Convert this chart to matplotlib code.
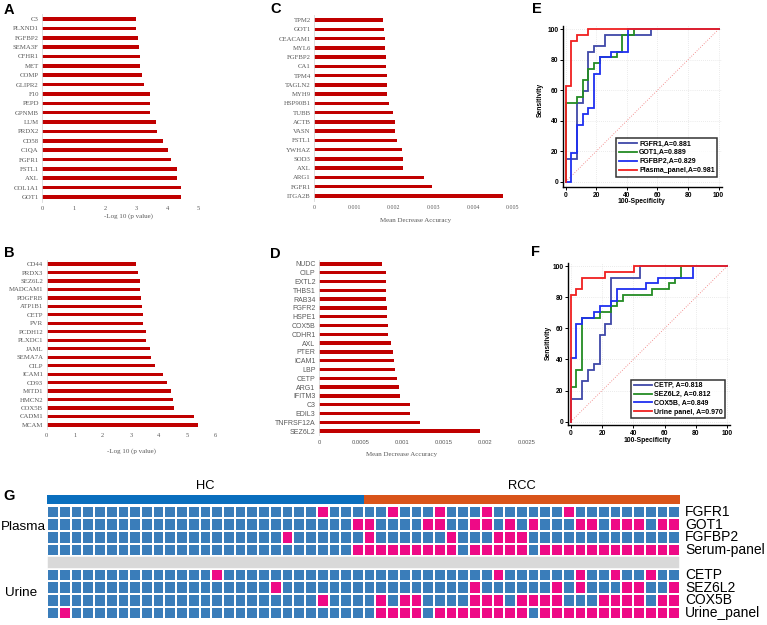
import numpy as np
import matplotlib
matplotlib.use("Agg")
import matplotlib.pyplot as plt
from matplotlib.colors import ListedColormap
from matplotlib.patches import Rectangle

W, H = 767, 625
SERIF = "Liberation Serif"
SANS = "Liberation Sans"
GRAY_TXT = "#595959"
BAR_RED = "#C00000"

# ---- panel A: t-test, plasma
a_genes = ["C3", "PLXND1", "FGFBP2", "SEMA3F", "CFHR1", "MET", "COMP", "GLIPR2", "F10", "PEPD",
           "GPNMB", "LUM", "PRDX2", "CD58", "C1QA", "FGFR1", "FSTL1", "AXL", "COL1A1", "GOT1"]
a_vals = [2.98, 2.98, 3.05, 3.08, 3.12, 3.13, 3.19, 3.26, 3.44, 3.44,
          3.45, 3.62, 3.68, 3.87, 4.02, 4.10, 4.31, 4.31, 4.42, 4.42]
a_ticks = [0, 1, 2, 3, 4, 5]
a_ticklabels = ["0", "1", "2", "3", "4", "5"]

# ---- panel B: t-test, urine
b_genes = ["CD44", "PRDX3", "SEZ6L2", "MADCAM1", "PDGFRB", "ATP1B1", "CETP", "PVR", "PCDH12", "PLXDC1",
           "JAML", "SEMA7A", "CILP", "ICAM1", "CD93", "MITD1", "HMCN2", "COX5B", "CADM1", "MCAM"]
b_vals = [3.18, 3.24, 3.31, 3.31, 3.36, 3.41, 3.42, 3.42, 3.53, 3.54,
          3.67, 3.73, 3.86, 4.14, 4.28, 4.43, 4.50, 4.55, 5.26, 5.38]
b_ticks = [0, 1, 2, 3, 4, 5, 6]
b_ticklabels = ["0", "1", "2", "3", "4", "5", "6"]

# ---- panel C: random forest, plasma
c_genes = ["TPM2", "GOT1", "CEACAM1", "MYL6", "FGFBP2", "CA1", "TPM4", "TAGLN2", "MYH9", "HSP90B1",
           "TUBB", "ACTB", "VASN", "FSTL1", "YWHAZ", "SOD3", "AXL", "ARG1", "FGFR1", "ITGA2B"]
c_vals = [0.00174, 0.00176, 0.00177, 0.00179, 0.00180, 0.00181, 0.00182, 0.00183, 0.00184, 0.00189,
          0.00197, 0.00202, 0.00204, 0.00207, 0.00221, 0.00222, 0.00223, 0.00276, 0.00297, 0.00475]
c_ticks = [0, 0.001, 0.002, 0.003, 0.004, 0.005]
c_ticklabels = ["0", "0.001", "0.002", "0.003", "0.004", "0.005"]

# ---- panel D: random forest, urine
d_genes = ["NUDC", "CILP", "EXTL2", "THBS1", "RAB34", "FGFR2", "HSPE1", "COX5B", "CDHR1", "AXL",
           "PTER", "ICAM1", "LBP", "CETP", "ARG1", "IFITM3", "C3", "EDIL3", "TNFRSF12A", "SEZ6L2"]
d_vals = [0.000759, 0.000803, 0.000803, 0.000807, 0.000811, 0.000815, 0.000819, 0.000827, 0.000831, 0.000867,
          0.000892, 0.000904, 0.000912, 0.000936, 0.000960, 0.000972, 0.001096, 0.001100, 0.001213, 0.001940]
d_ticks = [0, 0.0005, 0.001, 0.0015, 0.002, 0.0025]
d_ticklabels = ["0", "0.0005", "0.001", "0.0015", "0.002", "0.0025"]

# ---- panel E: ROC plasma (100-specificity, sensitivity)
e_fgfr1_x = [0, 0, 7.4, 7.4, 11.1, 11.1, 14.8, 14.8, 18.5, 18.5, 25.9, 25.9, 55.6, 55.6, 100]
e_fgfr1_y = [0, 14.8, 14.8, 51.9, 51.9, 59.3, 59.3, 85.2, 85.2, 88.9, 88.9, 96.3, 96.3, 100, 100]
e_got1_x = [0, 0, 7.4, 7.4, 11.1, 11.1, 14.8, 14.8, 18.5, 18.5, 22.2, 22.2, 33.3, 33.3, 37.0, 37.0, 44.4, 44.4, 100]
e_got1_y = [0, 51.9, 51.9, 55.6, 55.6, 66.7, 66.7, 74.1, 74.1, 77.8, 77.8, 81.5, 81.5, 85.2, 85.2, 96.3, 96.3, 100, 100]
e_fgfbp2_x = [0, 3.7, 3.7, 7.4, 7.4, 11.1, 11.1, 14.8, 14.8, 18.5, 18.5, 22.2, 22.2, 29.6, 29.6, 40.7, 40.7, 100]
e_fgfbp2_y = [0, 0, 18.5, 18.5, 37.0, 37.0, 44.4, 44.4, 48.1, 48.1, 70.4, 70.4, 81.5, 81.5, 85.2, 85.2, 100, 100]
e_panel_x = [0, 0, 3.7, 3.7, 7.4, 7.4, 14.8, 14.8, 100]
e_panel_y = [0, 63.0, 63.0, 92.6, 92.6, 96.3, 96.3, 100, 100]
e_labels = ["FGFR1,A=0.881", "GOT1,A=0.889", "FGFBP2,A=0.829", "Plasma_panel,A=0.981"]

# ---- panel F: ROC urine
f_cetp_x = [0, 0, 7.4, 7.4, 11.1, 11.1, 14.8, 14.8, 18.5, 18.5, 22.2, 22.2, 25.9, 25.9, 44.4, 44.4, 100]
f_cetp_y = [0, 14.8, 14.8, 25.9, 25.9, 33.3, 33.3, 37.0, 37.0, 55.6, 55.6, 63.0, 63.0, 92.6, 92.6, 100, 100]
f_sez_x = [0, 0, 3.7, 3.7, 7.4, 7.4, 18.5, 18.5, 25.9, 25.9, 29.6, 29.6, 33.3, 33.3, 51.9, 51.9,
           63.0, 63.0, 66.7, 66.7, 70.4, 70.4, 100]
f_sez_y = [0, 22.2, 22.2, 33.3, 33.3, 66.7, 66.7, 70.4, 70.4, 74.1, 74.1, 77.8, 77.8, 81.5, 81.5, 85.2,
           85.2, 88.9, 88.9, 92.6, 92.6, 100, 100]
f_cox_x = [0, 0, 3.7, 3.7, 7.4, 7.4, 14.8, 14.8, 18.5, 18.5, 25.9, 25.9, 29.6, 29.6, 48.1, 48.1,
           55.6, 55.6, 77.8, 77.8, 100]
f_cox_y = [0, 40.7, 40.7, 63.0, 63.0, 66.7, 66.7, 70.4, 70.4, 74.1, 74.1, 77.8, 77.8, 85.2, 85.2, 88.9,
           88.9, 92.6, 92.6, 100, 100]
f_panel_x = [0, 0, 3.7, 3.7, 7.4, 7.4, 22.2, 22.2, 40.7, 40.7, 100]
f_panel_y = [0, 81.5, 81.5, 85.2, 85.2, 92.6, 92.6, 96.3, 96.3, 100, 100]
f_labels = ["CETP, A=0.818", "SEZ6L2, A=0.812", "COX5B, A=0.849", "Urine panel, A=0.970"]

# ---- panel G: per-sample calls (column index of samples called positive)
n_hc = 27
n_rcc = 27
plasma_rows = ["FGFR1", "GOT1", "FGFBP2", "Serum-panel"]
urine_rows = ["CETP", "SEZ6L2", "COX5B", "Urine_panel"]
pos_fgfr1 = [23, 29, 33, 37, 44]
pos_got1 = [26, 27, 32, 33, 36, 37, 39, 41, 45, 46, 48, 49, 50, 52, 53]
pos_fgfbp2 = [20, 27, 34, 38, 39, 40]
pos_serum = [26, 27, 28, 29, 30, 31, 32, 33, 34, 36, 37, 38, 39, 40, 42, 43, 44, 45, 46, 47,
             48, 49, 50, 51, 52, 53]
pos_cetp = [14, 38, 45, 48, 51]
pos_sez6l2 = [19, 36, 43, 45, 49, 50, 53]
pos_cox5b = [23, 28, 30, 31, 36, 37, 38, 40, 41, 42, 43, 47, 48, 49, 50, 52, 53]
pos_urine = [1, 28, 29, 30, 31, 33, 34, 35, 36, 37, 38, 39, 40, 42, 43, 44, 45, 46, 47, 48,
             49, 50, 51, 52, 53]


def px_axes(fig, x0, y0, x1, y1):
    return fig.add_axes([x0 / W, 1 - y1 / H, (x1 - x0) / W, (y1 - y0) / H])


def bar_panel(fig, box, genes, vals, xmax, ticks, ticklabels,
              name_font, tick_font, name_size, tick_size):
    ax = px_axes(fig, *box)
    y = np.arange(len(genes))
    ax.barh(y, vals, height=0.38, color=BAR_RED, edgecolor="none")
    ax.set_ylim(len(genes) - 0.5, -0.5)
    ax.set_xlim(0, xmax)
    ax.set_yticks(y)
    ax.set_yticklabels(genes, fontfamily=name_font, fontsize=name_size, color=GRAY_TXT)
    ax.set_xticks(ticks)
    ax.set_xticklabels(ticklabels, fontfamily=tick_font, fontsize=tick_size, color=GRAY_TXT)
    ax.tick_params(axis="both", length=0)
    ax.tick_params(axis="y", pad=2.5)
    ax.tick_params(axis="x", pad=3.0)
    for s in ["top", "right", "bottom"]:
        ax.spines[s].set_visible(False)
    ax.spines["left"].set_color("#D9D9D9")
    ax.spines["left"].set_linewidth(0.6)
    ax.set_facecolor("none")
    return ax


def roc_panel(fig, box, curves, labels, xlim, ylim, leg_anchor, xlab_xy, ylab_xy):
    ax = px_axes(fig, *box)
    ax.plot([0, 100], [0, 100], color="#F07070", lw=0.6, linestyle=(0, (1, 2)))
    for (xs, ys, col), lab in zip(curves, labels):
        ax.plot(xs, ys, color=col, lw=1.3, label=lab, solid_joinstyle="miter")
    ax.set_xlim(*xlim)
    ax.set_ylim(*ylim)
    ax.set_xticks([0, 20, 40, 60, 80, 100])
    ax.set_yticks([0, 20, 40, 60, 80, 100])
    for lab in ax.get_xticklabels() + ax.get_yticklabels():
        lab.set_fontfamily(SANS)
        lab.set_fontweight("bold")
        lab.set_fontsize(4.8)
    ax.tick_params(length=2, width=0.7, pad=1.5, direction="out")
    ax.grid(True, color="#D8D8D8", lw=0.5, linestyle=(0, (1, 2)))
    for s in ["top", "right"]:
        ax.spines[s].set_visible(False)
    for s in ["left", "bottom"]:
        ax.spines[s].set_linewidth(1.0)
    ax.set_xlabel("100-Specificity", fontfamily=SANS, fontweight="bold", fontsize=4.9)
    ax.set_ylabel("Sensitivity", fontfamily=SANS, fontweight="bold", fontsize=4.9)
    ax.xaxis.set_label_coords(*xlab_xy)
    ax.yaxis.set_label_coords(*ylab_xy)
    ax.xaxis.label.set_va("center")
    ax.yaxis.label.set_va("center")
    leg = ax.legend(loc="lower right", bbox_to_anchor=leg_anchor, bbox_transform=ax.transData,
                    prop={"family": SANS, "weight": "bold", "size": 5.0},
                    frameon=True, fancybox=False, borderaxespad=0, borderpad=0.35,
                    labelspacing=0.28, handlelength=2.6, handletextpad=0.3)
    leg.get_frame().set_edgecolor("black")
    leg.get_frame().set_linewidth(1.1)
    return ax


fig = plt.figure(figsize=(W / 100, H / 100), dpi=100)

# A
ax = bar_panel(fig, (42.3, 14.3, 198.7, 201.7), a_genes, a_vals, 5, a_ticks, a_ticklabels,
               SERIF, SERIF, 4.9, 4.6)
ax.set_xlabel("-Log 10 (p value)", fontfamily=SERIF, fontsize=5.0, color=GRAY_TXT)
ax.xaxis.set_label_coords(0.548, -0.076)
ax.xaxis.label.set_va("center")

# B
ax = bar_panel(fig, (46.7, 259.8, 215.0, 429.2), b_genes, b_vals, 6, b_ticks, b_ticklabels,
               SERIF, SERIF, 4.9, 4.6)
ax.set_xlabel("-Log 10 (p value)", fontfamily=SERIF, fontsize=5.0, color=GRAY_TXT)
ax.xaxis.set_label_coords(0.505, -0.129)
ax.xaxis.label.set_va("center")

# C
ax = bar_panel(fig, (314.3, 15.4, 513.0, 200.6), c_genes, c_vals, 0.005, c_ticks, c_ticklabels,
               SERIF, SERIF, 4.9, 4.2)
ax.set_xlabel("Mean Decrease Accuracy", fontfamily=SERIF, fontsize=5.0, color=GRAY_TXT)
ax.xaxis.set_label_coords(0.509, -0.105)
ax.xaxis.label.set_va("center")

# D
ax = bar_panel(fig, (319.0, 259.6, 526.5, 435.4), d_genes, d_vals, 0.0025, d_ticks, d_ticklabels,
               SANS, SANS, 5.0, 4.2)
ax.set_xlabel("Mean Decrease Accuracy", fontfamily=SERIF, fontsize=5.0, color=GRAY_TXT)
ax.xaxis.set_label_coords(0.397, -0.111)
ax.xaxis.label.set_va("center")

# E
roc_panel(fig, (563.3, 26.2, 721.7, 186.7),
          [(e_fgfr1_x, e_fgfr1_y, "#3F48A8"), (e_got1_x, e_got1_y, "#238B23"),
           (e_fgfbp2_x, e_fgfbp2_y, "#1F2FF0"), (e_panel_x, e_panel_y, "#F02020")],
          e_labels, (-1.6, 102), (-3.3, 102), (99, 3.3), (0.495, -0.095), (-0.147, 0.54))

# F
roc_panel(fig, (568.3, 262.9, 730.4, 425.0),
          [(f_cetp_x, f_cetp_y, "#3F48A8"), (f_sez_x, f_sez_y, "#238B23"),
           (f_cox_x, f_cox_y, "#1F2FF0"), (f_panel_x, f_panel_y, "#F02020")],
          f_labels, (-1.53, 102), (-2.1, 102), (98.7, 2.2), (0.49, -0.093), (-0.125, 0.506))

# G heatmap
n_col = n_hc + n_rcc
all_pos = [pos_fgfr1, pos_got1, pos_fgfbp2, pos_serum, None,
           pos_cetp, pos_sez6l2, pos_cox5b, pos_urine]
mat = np.zeros((len(all_pos), n_col))
for r, pos in enumerate(all_pos):
    if pos is None:
        mat[r, :] = np.nan
    else:
        mat[r, pos] = 1
mat = np.ma.masked_invalid(mat)

axg = px_axes(fig, 47.3, 505.7, 680.0, 619.3)
cmap = ListedColormap(["#3A7DBA", "#EE0A86"])
axg.pcolormesh(np.arange(n_col + 1), np.arange(len(all_pos) + 1), mat, cmap=cmap,
               vmin=0, vmax=1, edgecolors="white", linewidth=1.1)
axg.add_patch(Rectangle((0, 4), n_col, 1, facecolor="#D9D9D9", edgecolor="white", lw=1.1))
axg.set_xlim(0, n_col)
axg.set_ylim(len(all_pos), 0)
axg.axis("off")
row_names = plasma_rows + [""] + urine_rows
for r, name in enumerate(row_names):
    if name:
        axg.text(n_col + 0.45, r + 0.5, name, fontfamily=SANS, fontsize=10, va="center",
                 ha="left", clip_on=False)
fig.text(0.5 / W, 1 - 526.7 / H, "Plasma", fontfamily=SANS, fontsize=9.7, va="center", ha="left")
fig.text(5.0 / W, 1 - 592.7 / H, "Urine", fontfamily=SANS, fontsize=9.7, va="center", ha="left")

# group bar
axb = px_axes(fig, 47.3, 495.0, 680.0, 504.0)
groups = np.array([[0] * n_hc + [1] * n_rcc])
axb.pcolormesh(np.arange(n_col + 1), [0, 1], groups,
               cmap=ListedColormap(["#0A6FBE", "#D9541A"]), vmin=0, vmax=1)
axb.set_xlim(0, n_col)
axb.set_ylim(0, 1)
axb.axis("off")
axb.text(n_hc / 2, 1.95, "HC", fontfamily=SANS, fontsize=9.3, ha="center", va="center")
axb.text(n_hc + n_rcc / 2, 1.95, "RCC", fontfamily=SANS, fontsize=9.3, ha="center", va="center")

# panel letters
for letter, x, y in [("A", 9, 10), ("B", 9, 253), ("C", 276, 9), ("D", 275, 254),
                     ("E", 537, 9), ("F", 536, 252), ("G", 9, 496)]:
    fig.text(x / W, 1 - y / H, letter, fontfamily=SANS, fontweight="bold", fontsize=10.5,
             ha="center", va="center")

fig.savefig("out.png", dpi=100)
